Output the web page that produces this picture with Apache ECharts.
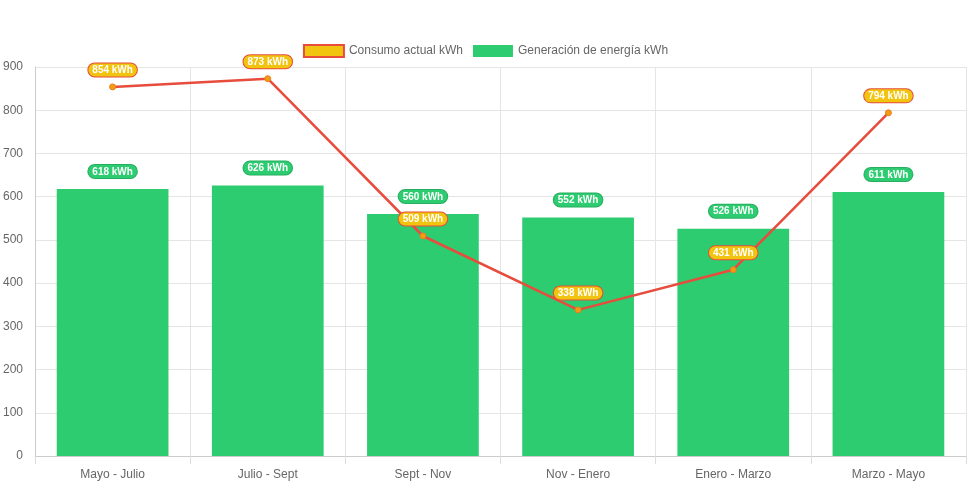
<!DOCTYPE html>
<html><head><meta charset="utf-8">
<script src="https://cdn.jsdelivr.net/npm/echarts@6/dist/echarts.min.js"></script>
<style>html,body{margin:0;padding:0;background:#fff}#c{width:971px;height:485px}</style>
</head><body><div id="c"></div>
<script>
const categories = ['Mayo - Julio','Julio - Sept','Sept - Nov','Nov - Enero','Enero - Marzo','Marzo - Mayo'];
const consumo = [854, 873, 509, 338, 431, 794];
const generacion = [618, 626, 560, 552, 526, 611];
const yTicks = {min: 0, max: 900, interval: 100};

const font = 'Helvetica Neue, Helvetica, Arial, "Liberation Sans", sans-serif';
const chart = echarts.init(document.getElementById('c'));
chart.setOption({
  animation: false,
  textStyle: {fontFamily: font},
  legend: {
    top: 39, left: 'center', itemWidth: 40, itemHeight: 12, itemGap: 10,
    textStyle: {color: '#666', fontSize: 12, fontFamily: font},
    data: [
      {name: 'Consumo actual kWh', icon: 'rect', itemStyle: {color: '#f1c40f', borderColor: '#e74c3c', borderWidth: 2}},
      {name: 'Generación de energía kWh', icon: 'rect', itemStyle: {color: '#2ecc71', borderColor: '#2ecc71', borderWidth: 0}}
    ]
  },
  grid: {left: 35, right: 5, top: 67, bottom: 29, containLabel: false},
  xAxis: {
    type: 'category', data: categories, boundaryGap: true,
    axisLine: {show: true, lineStyle: {color: '#ccc'}},
    axisTick: {show: true, length: 8, lineStyle: {color: '#ddd'}},
    splitLine: {show: true, lineStyle: {color: '#e5e5e5'}},
    axisLabel: {color: '#666', fontSize: 12, margin: 13, fontFamily: font}
  },
  yAxis: {
    type: 'value', min: yTicks.min, max: yTicks.max, interval: yTicks.interval,
    axisLine: {show: true, lineStyle: {color: '#ccc'}},
    axisTick: {show: false},
    splitLine: {show: true, lineStyle: {color: '#e5e5e5'}},
    axisLabel: {color: '#666', fontSize: 12, margin: 12, fontFamily: font}
  },
  series: [
    {
      name: 'Consumo actual kWh', type: 'line', data: consumo, z: 5,
      lineStyle: {color: '#e74c3c', width: 2.5},
      itemStyle: {color: '#f39c12', borderColor: '#e67e22', borderWidth: 1},
      symbol: 'circle', symbolSize: 6,
      label: {
        show: true, position: 'top', distance: 7,
        formatter: p => p.value + ' kWh',
        color: '#fff', fontWeight: 'bold', fontSize: 10, fontFamily: font,
        backgroundColor: '#f1c40f', borderColor: '#e74c3c', borderWidth: 1,
        borderRadius: 7, padding: [2, 4, 1, 4]
      }
    },
    {
      name: 'Generación de energía kWh', type: 'bar', data: generacion, z: 2,
      barWidth: '72%',
      itemStyle: {color: '#2ecc71'},
      label: {
        show: true, position: 'top', distance: 11,
        formatter: p => p.value + ' kWh',
        color: '#fff', fontWeight: 'bold', fontSize: 10, fontFamily: font,
        backgroundColor: '#2ecc71', borderColor: '#27ae60', borderWidth: 1,
        borderRadius: 7, padding: [2, 4, 1, 4]
      }
    }
  ]
});
</script></body></html>
